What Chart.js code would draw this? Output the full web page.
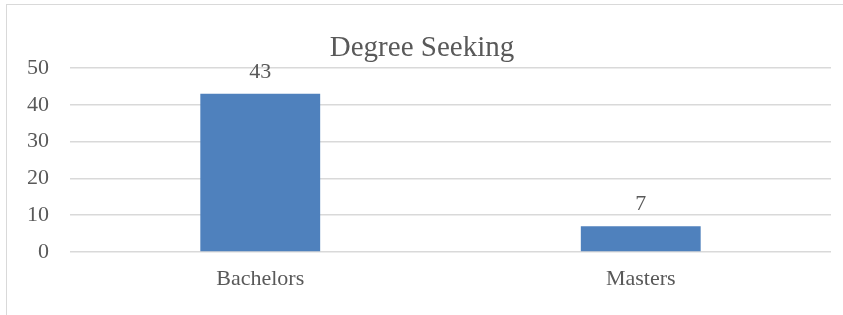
<!DOCTYPE html>
<html>
<head>
<meta charset="utf-8">
<script src="https://cdn.jsdelivr.net/npm/chart.js@4/dist/chart.umd.min.js"></script>
<style>
  html, body { margin: 0; padding: 0; background: #fff; }
  #wrap { position: relative; width: 843px; height: 315px; }
</style>
</head>
<body>
<div id="wrap"><canvas id="degreeChart"></canvas></div>
<script>
const categories = ['Bachelors', 'Masters'];
const studentCounts = [43, 7];
const yTicks = [0, 10, 20, 30, 40, 50];
const chartTitle = 'Degree Seeking';

const textColor = '#595959';
const fontFamily = "'Liberation Serif', 'Times New Roman', serif";

// outer frame + title + value labels, drawn like the Excel chart
const excelLook = {
  id: 'excelLook',
  beforeDraw(chart) {
    const ctx = chart.ctx;
    ctx.save();
    ctx.strokeStyle = '#d9d9d9';
    ctx.lineWidth = 1;
    ctx.strokeRect(6.5, 4.5, 900, 400);
    ctx.restore();
  },
  afterDraw(chart) {
    const ctx = chart.ctx;
    ctx.save();
    ctx.fillStyle = textColor;
    ctx.textAlign = 'center';
    ctx.textBaseline = 'alphabetic';
    ctx.font = `29px ${fontFamily}`;
    ctx.fillText(chartTitle, 422, 56);

    ctx.font = `22px ${fontFamily}`;
    const meta = chart.getDatasetMeta(0);
    meta.data.forEach((bar, i) => {
      ctx.fillText(String(studentCounts[i]), bar.x, bar.y - 16);
    });
    ctx.restore();
  }
};

new Chart(document.getElementById('degreeChart'), {
  type: 'bar',
  data: {
    labels: categories,
    datasets: [{
      label: chartTitle,
      data: studentCounts,
      backgroundColor: '#4f81bd',
      borderWidth: 0,
      categoryPercentage: 1,
      barPercentage: 0.315
    }]
  },
  options: {
    responsive: true,
    maintainAspectRatio: false,
    animation: false,
    layout: { padding: { top: 68, right: 12, bottom: 22, left: 0 } },
    plugins: {
      legend: { display: false },
      title: { display: false },
      tooltip: { enabled: false }
    },
    scales: {
      x: {
        grid: { display: false, drawTicks: false },
        border: { display: false },
        ticks: { color: textColor, font: { family: fontFamily, size: 22 }, padding: 14 },
        afterFit(scale) { scale.height = 41; }
      },
      y: {
        min: 0,
        max: 50,
        afterBuildTicks(scale) { scale.ticks = yTicks.map(v => ({ value: v })); },
        grid: { color: '#d9d9d9', lineWidth: 1.5, drawTicks: false },
        border: { display: false },
        ticks: { color: textColor, font: { family: fontFamily, size: 22 }, padding: 21 },
        afterFit(scale) { scale.width = 70; }
      }
    }
  },
  plugins: [excelLook]
});
</script>
</body>
</html>
